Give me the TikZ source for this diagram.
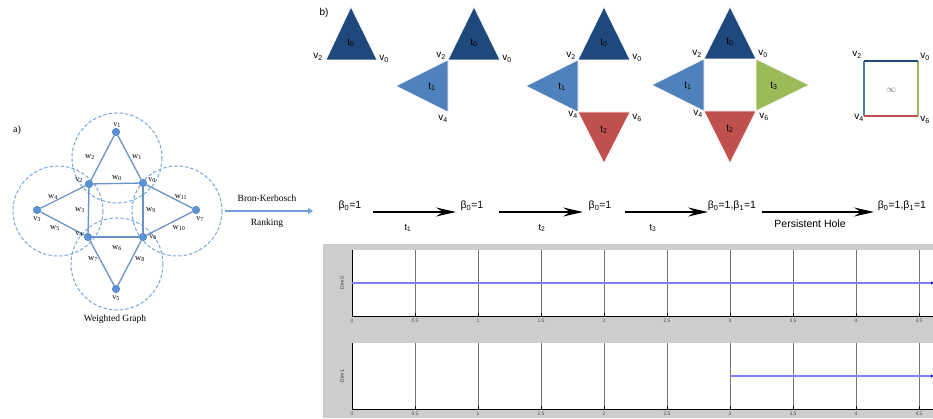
\documentclass[tikz,border=0pt]{standalone}
\usepackage{fontspec}
\setmainfont{Liberation Serif}
\newfontfamily\hv{Liberation Sans}
\usetikzlibrary{arrows.meta}
\definecolor{dkb}{HTML}{1F497D}
\definecolor{ltb}{HTML}{4F81BD}
\definecolor{rd}{HTML}{C0504D}
\definecolor{gr}{HTML}{9BBB59}
\definecolor{gnode}{HTML}{5B93DA}
\definecolor{gedge}{HTML}{6A93C8}
\definecolor{gcirc}{HTML}{7FA6D6}
\definecolor{bkarrow}{HTML}{6FA0D8}
\definecolor{panel}{HTML}{CDCDCD}
\definecolor{bar}{HTML}{8080FF}
\tikzset{
  vtx/.style={circle,inner sep=0pt,minimum size=7.5pt,fill=gnode,draw=gnode!80!black,line width=0.4pt},
  gline/.style={draw=gedge,line width=1.3pt},
  gcircle/.style={draw=gcirc,dashed,line width=1pt,dash pattern=on 3.5pt off 2pt},
  glab/.style={font=\fontsize{8}{8}\selectfont,inner sep=0pt},
  wlab/.style={font=\fontsize{8.5}{8.5}\selectfont,inner sep=0pt},
  slab/.style={font=\hv\fontsize{10}{10}\selectfont,inner sep=0pt},
  tlab/.style={font=\hv\fontsize{10}{10}\selectfont,inner sep=0pt},
  btxt/.style={font=\hv\fontsize{10.5}{10.5}\selectfont,inner sep=0pt},
  bigarrow/.style={line width=1.6pt,-{Stealth[length=20pt,width=9pt,inset=7pt]}},
  tri/.style={draw=white,line width=0.6pt},
  tick/.style={font=\hv\fontsize{5}{5}\selectfont,inner sep=0pt,text=black!70},
  grid/.style={draw=black!55,line width=0.4pt,dash pattern=on 0.4pt off 0.5pt},
  barline/.style={draw=bar,line width=1.3pt}
}
\begin{document}
\begin{tikzpicture}[x=1pt,y=-1pt]
\useasboundingbox[fill=white] (0,0) rectangle (933,419);

% ---------------- a) weighted graph
\node[font=\fontsize{10}{10}\selectfont] (la) at (17,130) {a)};
\draw[gcircle] (117,158) circle (45);
\draw[gcircle] (58,211) circle (45);
\draw[gcircle] (177,211) circle (45);
\draw[gcircle] (117,264) circle (46);

\node[vtx] (v1) at (116,132) {};
\node[vtx] (v2) at (89,184) {};
\node[vtx] (v0) at (143,183) {};
\node[vtx] (v3) at (37,210) {};
\node[vtx] (v7) at (196,210) {};
\node[vtx] (v4) at (88,237) {};
\node[vtx] (v6) at (143,237) {};
\node[vtx] (v5) at (116,289) {};

\draw[gline] (v1)--(v2);
\draw[gline] (v1)--(v0);
\draw[gline] (v2)--(v0);
\draw[gline] (v2)--(v3);
\draw[gline] (v3)--(v4);
\draw[gline] (v2)--(v4);
\draw[gline] (v0)--(v6);
\draw[gline] (v0)--(v7);
\draw[gline] (v7)--(v6);
\draw[gline] (v4)--(v6);
\draw[gline] (v4)--(v5);
\draw[gline] (v6)--(v5);

\node[glab] (lv1) at (117,125) {v\textsubscript{1}};
\node[glab] (lv2) at (79,180) {v\textsubscript{2}};
\node[glab] (lv0) at (152,180) {v\textsubscript{0}};
\node[glab] (lv3) at (37,219) {v\textsubscript{3}};
\node[glab] (lv7) at (200,219) {v\textsubscript{7}};
\node[glab] (lv4) at (79,234) {v\textsubscript{4}};
\node[glab] (lv6) at (153,237) {v\textsubscript{6}};
\node[glab] (lv5) at (116,298) {v\textsubscript{5}};

\node[wlab] (w2) at (90,157) {w\textsubscript{2}};
\node[wlab] (w1) at (137,157) {w\textsubscript{1}};
\node[wlab] (w0) at (117,178) {w\textsubscript{0}};
\node[wlab] (w4) at (53,197) {w\textsubscript{4}};
\node[wlab] (w11) at (181,197) {w\textsubscript{11}};
\node[wlab] (w3) at (80,210) {w\textsubscript{3}};
\node[wlab] (w9) at (151,210) {w\textsubscript{9}};
\node[wlab] (w5) at (55,228) {w\textsubscript{5}};
\node[wlab] (w10) at (179,228) {w\textsubscript{10}};
\node[wlab] (w6) at (117,248) {w\textsubscript{6}};
\node[wlab] (w7) at (93,259) {w\textsubscript{7}};
\node[wlab] (w8) at (140,259) {w\textsubscript{8}};

\node[font=\fontsize{9.5}{9.5}\selectfont,inner sep=0pt] (wg) at (115,319) {Weighted Graph};

% Bron-Kerbosch arrow
\coordinate (bks) at (225,211);
\coordinate (bke) at (313,211);
\draw[draw=bkarrow,line width=1.3pt,-{Triangle[length=5pt,width=6pt]}] (bks)--(bke);
\node[font=\fontsize{9.5}{9.5}\selectfont,inner sep=0pt] (bk) at (267,198) {Bron-Kerbosch};
\node[font=\fontsize{9.5}{9.5}\selectfont,inner sep=0pt] (rk) at (267,223) {Ranking};

% ---------------- b) triangles
\node[font=\hv\fontsize{10}{10}\selectfont,inner sep=0pt] (lb) at (324,13) {b)};

% set 1
\fill[dkb,tri] (326,60)--(377,60)--(351,7)--cycle;
\node[tlab] (s1t0) at (351,43) {t\textsubscript{0}};
\node[slab] (s1v2) at (318,57) {v\textsubscript{2}};
\node[slab] (s1v0) at (384,59) {v\textsubscript{0}};

% set 2
\fill[dkb,tri] (448,60)--(500,60)--(474,7)--cycle;
\fill[ltb,tri] (448,60)--(448,112)--(396,86)--cycle;
\node[tlab] (s2t0) at (474,43) {t\textsubscript{0}};
\node[tlab] (s2t1) at (432,87) {t\textsubscript{1}};
\node[slab] (s2v2) at (441,56) {v\textsubscript{2}};
\node[slab] (s2v0) at (507,59) {v\textsubscript{0}};
\node[slab] (s2v4) at (443,119) {v\textsubscript{4}};

% set 3
\fill[dkb,tri] (578,60)--(630,60)--(604,7)--cycle;
\fill[ltb,tri] (578,60)--(578,112)--(526,86)--cycle;
\fill[rd,tri] (578,112)--(630,112)--(604,163)--cycle;
\node[tlab] (s3t0) at (604,43) {t\textsubscript{0}};
\node[tlab] (s3t1) at (562,87) {t\textsubscript{1}};
\node[tlab] (s3t2) at (604,130) {t\textsubscript{2}};
\node[slab] (s3v2) at (571,56) {v\textsubscript{2}};
\node[slab] (s3v0) at (637,58) {v\textsubscript{0}};
\node[slab] (s3v4) at (573,115) {v\textsubscript{4}};
\node[slab] (s3v6) at (637,118) {v\textsubscript{6}};

% set 4
\fill[dkb,tri] (704,59)--(756,59)--(730,7)--cycle;
\fill[ltb,tri] (704,59)--(704,111)--(652,85)--cycle;
\fill[rd,tri] (704,111)--(756,111)--(730,163)--cycle;
\fill[gr,tri] (756,59)--(756,111)--(809,85)--cycle;
\node[tlab] (s4t0) at (730,42) {t\textsubscript{0}};
\node[tlab] (s4t1) at (688,86) {t\textsubscript{1}};
\node[tlab] (s4t2) at (730,129) {t\textsubscript{2}};
\node[tlab] (s4t3) at (774,86) {t\textsubscript{3}};
\node[slab] (s4v2) at (697,54) {v\textsubscript{2}};
\node[slab] (s4v0) at (763,54) {v\textsubscript{0}};
\node[slab] (s4v4) at (698,114) {v\textsubscript{4}};
\node[slab] (s4v6) at (764,117) {v\textsubscript{6}};

% square
\coordinate (q2) at (864,61);
\coordinate (q0) at (918,61);
\coordinate (q4) at (864,116);
\coordinate (q6) at (918,116);
\draw[ltb,line width=1.8pt] (q2)--(q4);
\draw[gr,line width=1.8pt] (q0)--(q6);
\draw[dkb,line width=1.8pt] (q2)--(q0);
\draw[rd,line width=1.8pt] (q4)--(q6);
\node[font=\hv\fontsize{10}{10}\selectfont,text=black!60,inner sep=0pt] (inf) at (891,90) {$\infty$};
\node[slab] (qv2) at (857,55) {v\textsubscript{2}};
\node[slab] (qv0) at (925,57) {v\textsubscript{0}};
\node[slab] (qv4) at (859,118) {v\textsubscript{4}};
\node[slab] (qv6) at (925,120) {v\textsubscript{6}};

% ---------------- Betti row
\node[btxt] (b1) at (350,206) {β\textsubscript{0}=1};
\node[btxt] (b2) at (472,206) {β\textsubscript{0}=1};
\node[btxt] (b3) at (600,206) {β\textsubscript{0}=1};
\node[btxt] (b4) at (732,206) {β\textsubscript{0}=1,β\textsubscript{1}=1};
\node[btxt] (b5) at (902,206) {β\textsubscript{0}=1,β\textsubscript{1}=1};
\coordinate (a1s) at (373,212); \coordinate (a1e) at (456,212);
\coordinate (a2s) at (499,212); \coordinate (a2e) at (583,212);
\coordinate (a3s) at (625,212); \coordinate (a3e) at (708,212);
\coordinate (a4s) at (762,212); \coordinate (a4e) at (874,212);
\draw[bigarrow] (a1s)--(a1e);
\draw[bigarrow] (a2s)--(a2e);
\draw[bigarrow] (a3s)--(a3e);
\draw[bigarrow] (a4s)--(a4e);
\node[tlab,font=\hv\fontsize{9.5}{9.5}\selectfont] (at1) at (408,228) {t\textsubscript{1}};
\node[tlab,font=\hv\fontsize{9.5}{9.5}\selectfont] (at2) at (542,228) {t\textsubscript{2}};
\node[tlab,font=\hv\fontsize{9.5}{9.5}\selectfont] (at3) at (653,228) {t\textsubscript{3}};
\node[btxt] (ph) at (810,224) {Persistent Hole};

% ---------------- barcode plots
\fill[panel] (323,244) rectangle (933,418);
\fill[white] (352,250) rectangle (933,316);
\fill[white] (352,343) rectangle (933,409);
\foreach \v in {0.5,1,1.5,2,2.5,3,3.5,4,4.5}{
  \draw[grid] ({352+126*\v},250)--({352+126*\v},316);
  \draw[grid] ({352+126*\v},343)--({352+126*\v},409);
  \draw[black,line width=0.5pt] ({352+126*\v},316)--({352+126*\v},313);
  \draw[black,line width=0.5pt] ({352+126*\v},409)--({352+126*\v},406);
}
\foreach \v/\t in {0/0,0.5/0.5,1/1,1.5/1.5,2/2,2.5/2.5,3/3,3.5/3.5,4/4,4.5/4.5}{
  \node[tick] at ({352+126*\v},320.5) {\t};
  \node[tick] at ({352+126*\v},413.5) {\t};
}
\draw[black,line width=1pt] (352,250)--(352,316);
\draw[black,line width=0.6pt] (352,316)--(933,316);
\draw[black,line width=1pt] (352,343)--(352,409);
\draw[black,line width=0.6pt] (352,409)--(933,409);
\node[tick,rotate=90,text=black!80,font=\hv\fontsize{5}{5}\selectfont] (d0) at (342,283) {Dim 0};
\node[tick,rotate=90,text=black!80,font=\hv\fontsize{5}{5}\selectfont] (d1) at (342,376) {Dim 1};
\coordinate (bar0s) at (352,283);
\node[circle,fill=blue!70!black,inner sep=0pt,minimum size=3pt] (bar0e) at (931.5,283) {};
\draw[barline] (bar0s)--(bar0e);
\coordinate (bar1s) at (730,376);
\node[circle,fill=blue!70!black,inner sep=0pt,minimum size=3pt] (bar1e) at (931.5,376) {};
\draw[barline] (bar1s)--(bar1e);
\end{tikzpicture}
\end{document}
